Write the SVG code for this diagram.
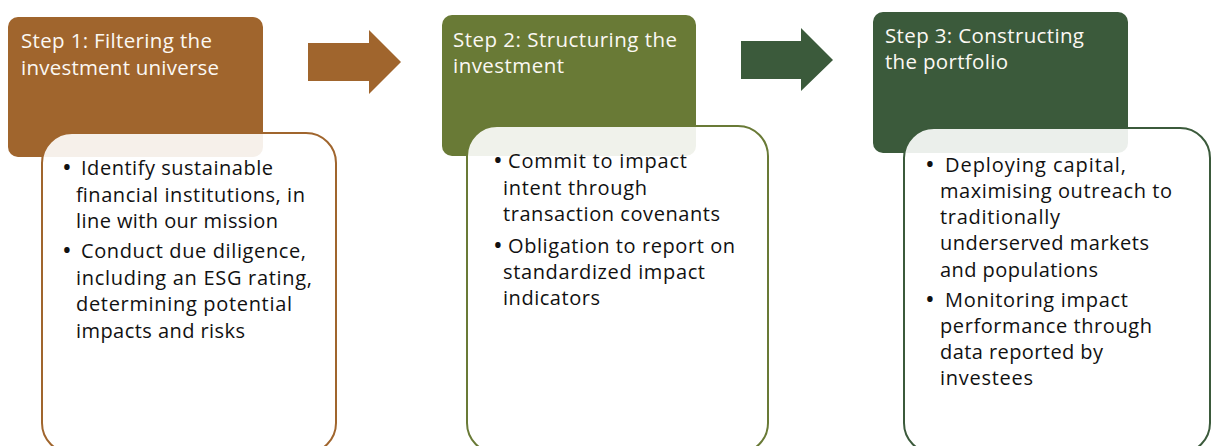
<svg xmlns="http://www.w3.org/2000/svg" width="1214" height="446" viewBox="0 0 1214 446">
<style>
.hd{font-family:"Open Sans","Noto Sans",sans-serif;font-size:20.5px;fill:#fbf8f3}
.bd{font-family:"Open Sans","Noto Sans",sans-serif;font-size:20px;fill:#111}
.bl{font-family:"Open Sans","Noto Sans",sans-serif;font-size:26px;fill:#111}
.card{fill:#ffffff;fill-opacity:0.9;stroke-width:2}
</style>
<rect width="1214" height="446" fill="#ffffff"/>
<g id="connectors">
<polygon id="arrow1" points="308,43 369,43 369,30 401,62 369,94 369,81 308,81" fill="#a0652d"/>
<polygon id="arrow2" points="741,41 801,41 801,28 833,60 801,91 801,79 741,79" fill="#3b5a3b"/>
</g>
<g id="step1">
<rect x="8" y="17" width="255" height="140" rx="10" fill="#a0652d"/>
<text class="hd" x="21" y="48" textLength="191">Step 1: Filtering the</text>
<text class="hd" x="21" y="75" textLength="198">investment universe</text>
<rect class="card" x="42" y="133" width="294" height="320" rx="30" stroke="#a0652d"/>
<text class="bl" x="62" y="176">•</text>
<text class="bd" x="81" y="175" textLength="192">Identify sustainable</text>
<text class="bd" x="76" y="202" textLength="229">financial institutions, in</text>
<text class="bd" x="76" y="228" textLength="202">line with our mission</text>
<text class="bl" x="62" y="259">•</text>
<text class="bd" x="81" y="258" textLength="225">Conduct due diligence,</text>
<text class="bd" x="76" y="285" textLength="236">including an ESG rating,</text>
<text class="bd" x="76" y="311" textLength="216">determining potential</text>
<text class="bd" x="76" y="338" textLength="169">impacts and risks</text>
</g>
<g id="step2">
<rect x="442" y="15" width="254" height="141" rx="10" fill="#697a36"/>
<text class="hd" x="453" y="47" textLength="224">Step 2: Structuring the</text>
<text class="hd" x="453" y="73" textLength="111">investment</text>
<rect class="card" x="467" y="126" width="301" height="327" rx="30" stroke="#697a36"/>
<text class="bl" x="493" y="169">•</text>
<text class="bd" x="508" y="168" textLength="179">Commit to impact</text>
<text class="bd" x="503" y="195" textLength="144">intent through</text>
<text class="bd" x="503" y="221" textLength="217">transaction covenants</text>
<text class="bl" x="493" y="254">•</text>
<text class="bd" x="508" y="253" textLength="227">Obligation to report on</text>
<text class="bd" x="503" y="279" textLength="202">standardized impact</text>
<text class="bd" x="503" y="305" textLength="97">indicators</text>
</g>
<g id="step3">
<rect x="873" y="12" width="255" height="141" rx="10" fill="#3b5a3b"/>
<text class="hd" x="885" y="43" textLength="199">Step 3: Constructing</text>
<text class="hd" x="885" y="69" textLength="123">the portfolio</text>
<rect class="card" x="904" y="128" width="306" height="325" rx="30" stroke="#3b5a3b"/>
<text class="bl" x="925" y="173">•</text>
<text class="bd" x="945" y="172" textLength="181">Deploying capital,</text>
<text class="bd" x="940" y="198" textLength="232">maximising outreach to</text>
<text class="bd" x="940" y="224" textLength="120">traditionally</text>
<text class="bd" x="940" y="250" textLength="209">underserved markets</text>
<text class="bd" x="940" y="277" textLength="158">and populations</text>
<text class="bl" x="925" y="308">•</text>
<text class="bd" x="945" y="307" textLength="183">Monitoring impact</text>
<text class="bd" x="940" y="333" textLength="212">performance through</text>
<text class="bd" x="940" y="359" textLength="163">data reported by</text>
<text class="bd" x="940" y="385" textLength="93">investees</text>
</g>
</svg>
